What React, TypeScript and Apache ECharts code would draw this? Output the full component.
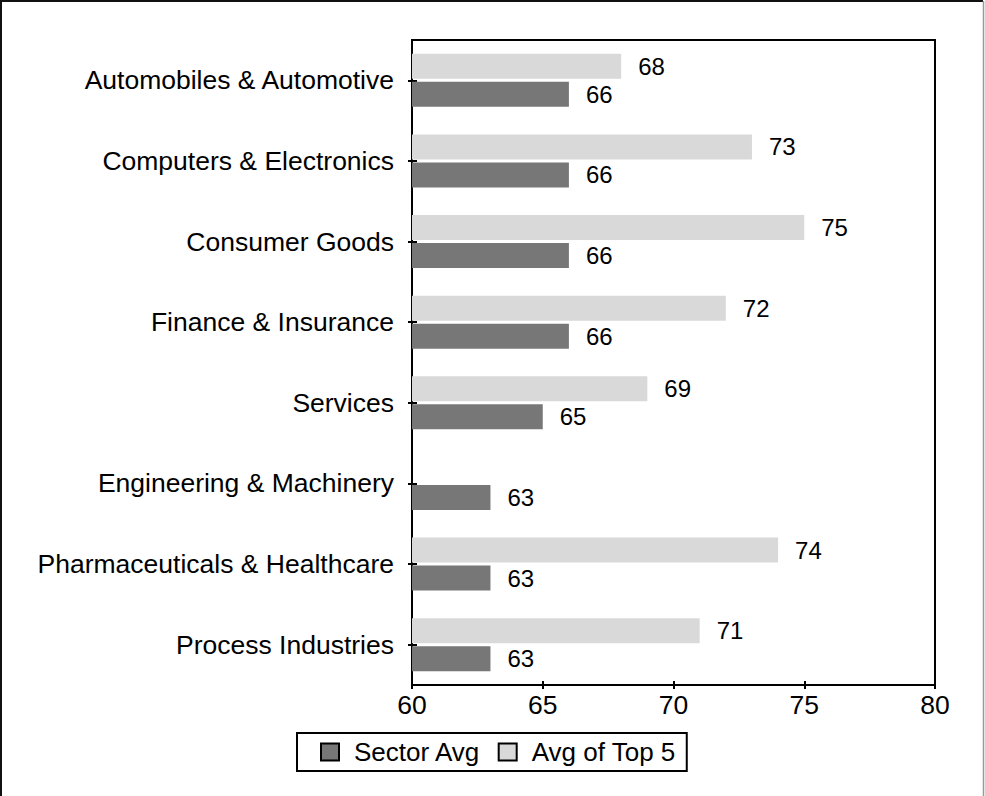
import React, { useEffect, useRef } from "react";
import * as echarts from "echarts";

const categories = [
  "Automobiles & Automotive",
  "Computers & Electronics",
  "Consumer Goods",
  "Finance & Insurance",
  "Services",
  "Engineering & Machinery",
  "Pharmaceuticals & Healthcare",
  "Process Industries",
];
const sectorAvg = [66, 66, 66, 66, 65, 63, 63, 63];
const top5Avg: (number | null)[] = [68, 73, 75, 72, 69, null, 74, 71];
const xTicks = { min: 60, max: 80, interval: 5 };

const FONT = "'Liberation Sans', Arial, Helvetica, sans-serif";

export default function App() {
  const ref = useRef<HTMLDivElement>(null);
  useEffect(() => {
    if (!ref.current) return;
    const chart = echarts.init(ref.current, undefined, { renderer: "svg" });
    const label = {
      show: true,
      position: "right" as const,
      distance: 17,
      color: "#000",
      fontSize: 24,
      fontFamily: FONT,
    };
    chart.setOption({
      animation: false,
      backgroundColor: "#fff",
      textStyle: { fontFamily: FONT },
      graphic: [
        {
          type: "polyline",
          shape: { points: [[1, 800], [1, 1], [983, 1]] },
          style: { fill: "none", stroke: "#111", lineWidth: 2 },
          silent: true,
        },
        {
          type: "line",
          shape: { x1: 983.5, y1: 1, x2: 983.5, y2: 800 },
          style: { stroke: "#999", lineWidth: 1.5 },
          silent: true,
        },
      ],
      grid: {
        left: 412,
        right: 50,
        top: 40,
        bottom: 111,
        show: true,
        borderColor: "#000",
        borderWidth: 2,
        backgroundColor: "transparent",
      },
      legend: {
        data: ["Sector Avg", "Avg of Top 5"],
        left: 297,
        top: 733,
        orient: "horizontal",
        padding: [6, 11, 6, 23],
        borderColor: "#000",
        borderWidth: 2,
        itemWidth: 18,
        itemHeight: 17,
        itemGap: 17,
        icon: "rect",
        itemStyle: { borderColor: "#000", borderWidth: 2 },
        textStyle: {
          fontSize: 26,
          color: "#000",
          fontFamily: FONT,
          padding: [0, 0, 0, 10],
        },
      },
      xAxis: [
        {
          type: "value",
          min: xTicks.min,
          max: xTicks.max,
          interval: xTicks.interval,
          position: "bottom",
          axisLine: { show: true, lineStyle: { color: "#000", width: 2 } },
          axisTick: { show: true, length: 4, lineStyle: { color: "#000", width: 2 } },
          axisLabel: { fontSize: 26.5, color: "#000", margin: 6, fontFamily: FONT },
          splitLine: { show: false },
        },
        {
          type: "value",
          min: xTicks.min,
          max: xTicks.max,
          interval: xTicks.interval,
          position: "bottom",
          axisLine: { show: false },
          axisTick: { show: true, inside: true, length: 4, lineStyle: { color: "#000", width: 2 } },
          axisLabel: { show: false },
          splitLine: { show: false },
        },
      ],
      yAxis: [
        {
          type: "category",
          data: categories,
          inverse: true,
          position: "left",
          axisLine: { show: true, lineStyle: { color: "#000", width: 2 } },
          axisTick: {
            show: true,
            alignWithLabel: true,
            interval: 0,
            length: 4,
            lineStyle: { color: "#000", width: 2 },
          },
          axisLabel: { fontSize: 26.5, color: "#000", margin: 18, interval: 0, fontFamily: FONT },
        },
        {
          type: "category",
          data: categories,
          inverse: true,
          position: "left",
          axisLine: { show: false },
          axisTick: {
            show: true,
            inside: true,
            alignWithLabel: true,
            interval: 0,
            length: 5,
            lineStyle: { color: "#000", width: 2 },
          },
          axisLabel: { show: false },
        },
      ],
      series: [
        {
          name: "Avg of Top 5",
          type: "bar",
          data: top5Avg.map((v) => (v === null ? "-" : v)),
          barWidth: 25,
          barGap: "12%",
          itemStyle: { color: "#d9d9d9" },
          label,
        },
        {
          name: "Sector Avg",
          type: "bar",
          data: sectorAvg,
          barWidth: 25,
          barGap: "12%",
          itemStyle: { color: "#777777" },
          label,
        },
      ],
    });
    return () => chart.dispose();
  }, []);
  return (
    <div
      ref={ref}
      style={{ position: "fixed", left: 0, top: 0, width: 985, height: 796 }}
    />
  );
}
